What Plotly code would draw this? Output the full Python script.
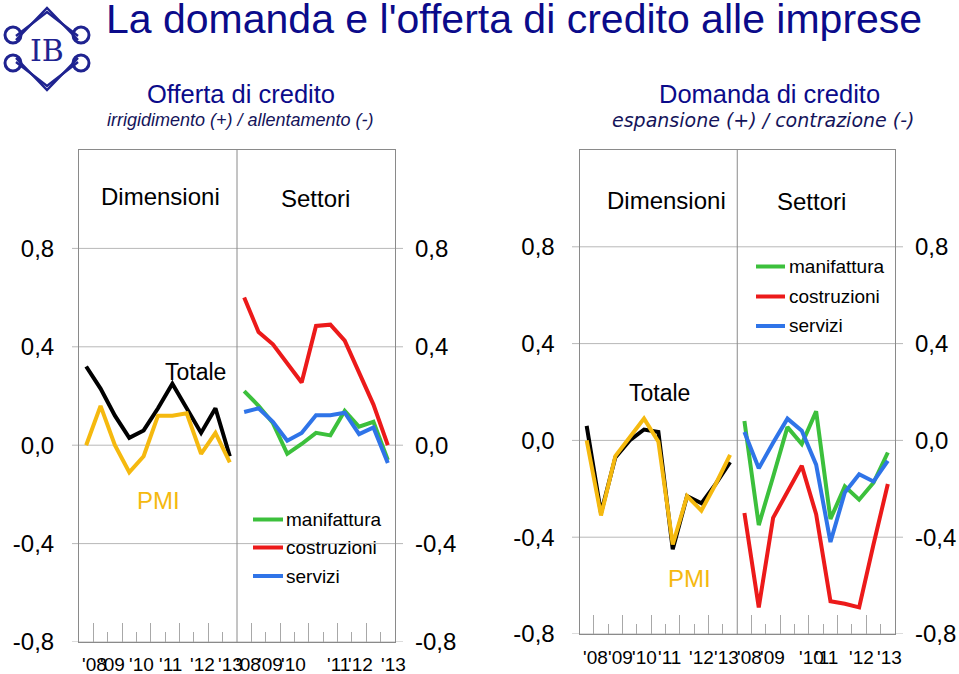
import plotly.graph_objects as go

W, H = 959, 674

# ---------------- data ----------------
periods = ["2008-I", "2008-II", "2009-I", "2009-II", "2010-I", "2010-II",
           "2011-I", "2011-II", "2012-I", "2012-II", "2013-I"]

# Offerta di credito (irrigidimento + / allentamento -)
off_totale = [0.32, 0.23, 0.12, 0.03, 0.06, 0.15, 0.25, 0.15, 0.05, 0.15, -0.045]
off_pmi = [0.0, 0.16, 0.0, -0.11, -0.045, 0.12, 0.12, 0.13, -0.035, 0.05, -0.07]
off_manifattura = [0.22, 0.16, 0.09, -0.035, 0.005, 0.05, 0.04, 0.14, 0.075, 0.095, -0.06]
off_costruzioni = [0.60, 0.46, 0.41, 0.33, 0.255, 0.485, 0.49, 0.425, 0.29, 0.165, 0.0]
off_servizi = [0.135, 0.15, 0.095, 0.018, 0.05, 0.122, 0.122, 0.132, 0.045, 0.072, -0.072]

# Domanda di credito (espansione + / contrazione -)
dom_totale = [0.06, -0.30, -0.07, 0.0, 0.045, 0.035, -0.45, -0.23, -0.26, -0.18, -0.09]
dom_pmi = [0.0, -0.31, -0.065, 0.01, 0.09, -0.005, -0.43, -0.23, -0.29, -0.18, -0.06]
dom_manifattura = [0.08, -0.35, -0.15, 0.055, -0.015, 0.12, -0.325, -0.19, -0.245, -0.175, -0.05]
dom_costruzioni = [-0.30, -0.69, -0.32, -0.21, -0.105, -0.305, -0.665, -0.675, -0.69, -0.43, -0.18]
dom_servizi = [0.035, -0.115, -0.01, 0.09, 0.04, -0.10, -0.42, -0.215, -0.14, -0.17, -0.085]

y_ticks = [-0.8, -0.4, 0.0, 0.4, 0.8]
y_ticktext = ["-0,8", "-0,4", "0,0", "0,4", "0,8"]
year_labels = ["'08", "'09", "'10", "'11", "'12", "'13"]

# positions of the (hand-placed) year labels, in category units
off_label_pos = [1.11, 2.3, 4.32, 6.34, 8.57, 10.58, 11.77, 13.3, 14.9, 18.04, 19.57, 21.87]
dom_label_pos = [1.09, 2.83, 4.56, 6.3, 8.52, 10.26, 11.88, 13.48, 16.19, 17.23, 19.67, 21.62]

# ---------------- styles ----------------
FONT = "Liberation Sans, Arial, sans-serif"
NARROW = "Liberation Sans Narrow, Arial Narrow, Liberation Sans, sans-serif"
NAVY = "#0b0b8a"
LOGO = "#1f2390"
C_TOT = "#000000"
C_PMI = "#F5B90F"
C_MAN = "#3CC03C"
C_COS = "#EC1A1A"
C_SER = "#2F74E8"
BOX = "#8a8a8a"
GRID = "#b8b8b8"
LW = 4

def px(x):
    return x / W

def py(y):
    return 1 - y / H

n = len(periods)
x_dim = [i + 0.5 for i in range(n)]
x_set = [n + i + 0.5 for i in range(n)]

fig = go.Figure()

def add_line(xs, ys, color, xa, ya, name):
    fig.add_trace(go.Scatter(x=xs, y=ys, mode="lines", name=name,
                             line=dict(color=color, width=LW),
                             xaxis=xa, yaxis=ya, showlegend=False,
                             hoverinfo="skip"))

# left chart (offerta)
add_line(x_dim, off_totale, C_TOT, "x", "y", "Totale")
add_line(x_dim, off_pmi, C_PMI, "x", "y", "PMI")
add_line(x_set, off_costruzioni, C_COS, "x", "y", "costruzioni")
add_line(x_set, off_manifattura, C_MAN, "x", "y", "manifattura")
add_line(x_set, off_servizi, C_SER, "x", "y", "servizi")
# right chart (domanda)
add_line(x_dim, dom_totale, C_TOT, "x2", "y3", "Totale")
add_line(x_dim, dom_pmi, C_PMI, "x2", "y3", "PMI")
add_line(x_set, dom_costruzioni, C_COS, "x2", "y3", "costruzioni")
add_line(x_set, dom_manifattura, C_MAN, "x2", "y3", "manifattura")
add_line(x_set, dom_servizi, C_SER, "x2", "y3", "servizi")
# dummy traces so that the right-hand y axes are drawn
fig.add_trace(go.Scatter(x=[None], y=[None], xaxis="x", yaxis="y2", showlegend=False))
fig.add_trace(go.Scatter(x=[None], y=[None], xaxis="x2", yaxis="y4", showlegend=False))

major = [1, 3, 5, 7, 9, 12, 14, 16, 18, 20]
minor = [2, 4, 6, 8, 10, 13, 15, 17, 19, 21]

def xaxis_cfg(x0, x1, y_anchor):
    return dict(domain=[px(x0), px(x1)], range=[0, 2 * n], anchor=y_anchor,
                showgrid=False, zeroline=False, showline=True, mirror=True,
                linecolor=BOX, linewidth=1, ticks="inside", tickmode="array",
                tickvals=major, ticklen=19, tickwidth=1, tickcolor="#a8a8a8",
                showticklabels=False, fixedrange=True, automargin=False,
                minor=dict(tickmode="array", tickvals=minor, ticks="inside",
                           ticklen=10, tickwidth=1, tickcolor="#a8a8a8"))

def yaxis_cfg(ytop, ybot, x_anchor, side="left", overlay=None):
    d = dict(domain=[py(ybot), py(ytop)], range=[-0.8, 1.2], anchor=x_anchor,
             showgrid=False, zeroline=False, tickmode="array", tickvals=y_ticks,
             ticktext=y_ticktext, ticks="", side=side, fixedrange=True,
             automargin=False,
             tickfont=dict(family=FONT, size=24, color="#000000"),
             ticklabelstandoff=19)
    if overlay:
        d.update(overlaying=overlay, showline=False)
    else:
        d.update(showline=True, mirror=True, linecolor=BOX, linewidth=1)
    return d

L_X0, L_X1, L_TOP, L_BOT = 79, 395, 150, 642
R_X0, R_X1, R_TOP, R_BOT = 579.5, 895, 150, 634

fig.update_layout(
    width=W, height=H, margin=dict(l=0, r=0, t=0, b=0, autoexpand=False),
    paper_bgcolor="white", plot_bgcolor="rgba(0,0,0,0)",
    xaxis=xaxis_cfg(L_X0, L_X1, "y"),
    yaxis=yaxis_cfg(L_TOP, L_BOT, "x"),
    yaxis2=yaxis_cfg(L_TOP, L_BOT, "x", side="right", overlay="y"),
    xaxis2=xaxis_cfg(R_X0, R_X1, "y3"),
    yaxis3=yaxis_cfg(R_TOP, R_BOT, "x2"),
    yaxis4=yaxis_cfg(R_TOP, R_BOT, "x2", side="right", overlay="y3"),
)

shapes = []
# grid lines (extend slightly outside the box) and divider
for (xa, ya, gx0, gx1) in [("x", "y", 72, 403), ("x2", "y3", 572, 903)]:
    for v in y_ticks:
        shapes.append(dict(type="line", xref="paper", yref=ya, x0=px(gx0), x1=px(gx1),
                           y0=v, y1=v, line=dict(color=GRID, width=1), layer="below"))
    shapes.append(dict(type="line", xref=xa, yref=ya, x0=n, x1=n, y0=-0.8, y1=1.2,
                       line=dict(color=BOX, width=1), layer="below"))

# legend keys
def legend(x0, x1, ys):
    for yy, c in zip(ys, [C_MAN, C_COS, C_SER]):
        shapes.append(dict(type="line", xref="paper", yref="paper", x0=px(x0), x1=px(x1),
                           y0=py(yy), y1=py(yy), line=dict(color=c, width=LW)))

legend(253, 283, [519.5, 547.5, 576])
legend(756, 785, [266.5, 296.5, 326])

# logo (approximation of the emblem)
def path_px(points):
    s = "M %f,%f" % (px(points[0][0]), py(points[0][1]))
    for p in points[1:]:
        s += " L %f,%f" % (px(p[0]), py(p[1]))
    return s

def circ(cx, cy, r):
    shapes.append(dict(type="circle", xref="paper", yref="paper",
                       x0=px(cx - r), x1=px(cx + r), y0=py(cy + r), y1=py(cy - r),
                       line=dict(color=LOGO, width=3)))

for off in (0, 4):
    shapes.append(dict(type="path", xref="paper", yref="paper",
                       path=path_px([(16, 40 - off), (47, 8 + off), (78, 40 - off)]),
                       line=dict(color=LOGO, width=2.5)))
    shapes.append(dict(type="path", xref="paper", yref="paper",
                       path=path_px([(16, 58 + off), (47, 90 - off), (78, 58 + off)]),
                       line=dict(color=LOGO, width=2.5)))
circ(13, 35, 8)
circ(81, 35, 8)
circ(13, 63, 8)
circ(81, 63, 8)

fig.update_layout(shapes=shapes)

ann = []

def text(x, y, s, size, color="#000000", family=FONT, xanchor="center", italic=False):
    ann.append(dict(x=px(x), y=py(y), xref="paper", yref="paper", text=s,
                    showarrow=False, xanchor=xanchor, yanchor="middle",
                    font=dict(family=family, size=size, color=color,
                              style="italic" if italic else "normal")))

text(104, 19, "La domanda e l'offerta di credito alle imprese", 41, NAVY, xanchor="left")
text(241, 94, "Offerta di credito", 25.5, NAVY)
text(240.5, 120, "irrigidimento (+) / allentamento (-)", 18, "#14145a", italic=True)
text(769, 94, "Domanda di credito", 25.5, NAVY)
text(762.5, 120, "espansione (+) / contrazione (-)", 19,
     "#14145a", family="DejaVu Sans, Verdana, sans-serif", italic=True)

text(47, 50, "IB", 30, LOGO, family="DejaVu Serif, serif")

# panel headings
text(160.5, 197, "Dimensioni", 24)
text(315, 198, "Settori", 24)
text(666, 200, "Dimensioni", 24)
text(811, 201, "Settori", 24)
# series labels
text(195, 372, "Totale", 23)
text(158, 500, "PMI", 24, C_PMI)
text(659, 393, "Totale", 23)
text(689, 578, "PMI", 24, C_PMI)
# legend texts
for x0, ys in [(284, [519.5, 547.5, 576]), (787, [266.5, 296.5, 326])]:
    for yy, s in zip(ys, ["manifattura", "costruzioni", "servizi"]):
        text(x0, yy, s, 19, xanchor="left")

fig.update_layout(annotations=ann)

# year labels below the axes (data x, paper y)
for xa, pos, ylab in [("x", off_label_pos, 664), ("x2", dom_label_pos, 657)]:
    for i, p in enumerate(pos):
        fig.add_annotation(x=p, y=py(ylab), xref=xa, yref="paper",
                           text=year_labels[i % len(year_labels)], showarrow=False,
                           xanchor="center", yanchor="middle",
                           font=dict(family=NARROW, size=19, color="#000000"))

fig.write_html("out.html", config={"displayModeBar": False},
               post_script="document.body.style.margin='0px';"
                           "document.body.style.overflow='hidden';")
